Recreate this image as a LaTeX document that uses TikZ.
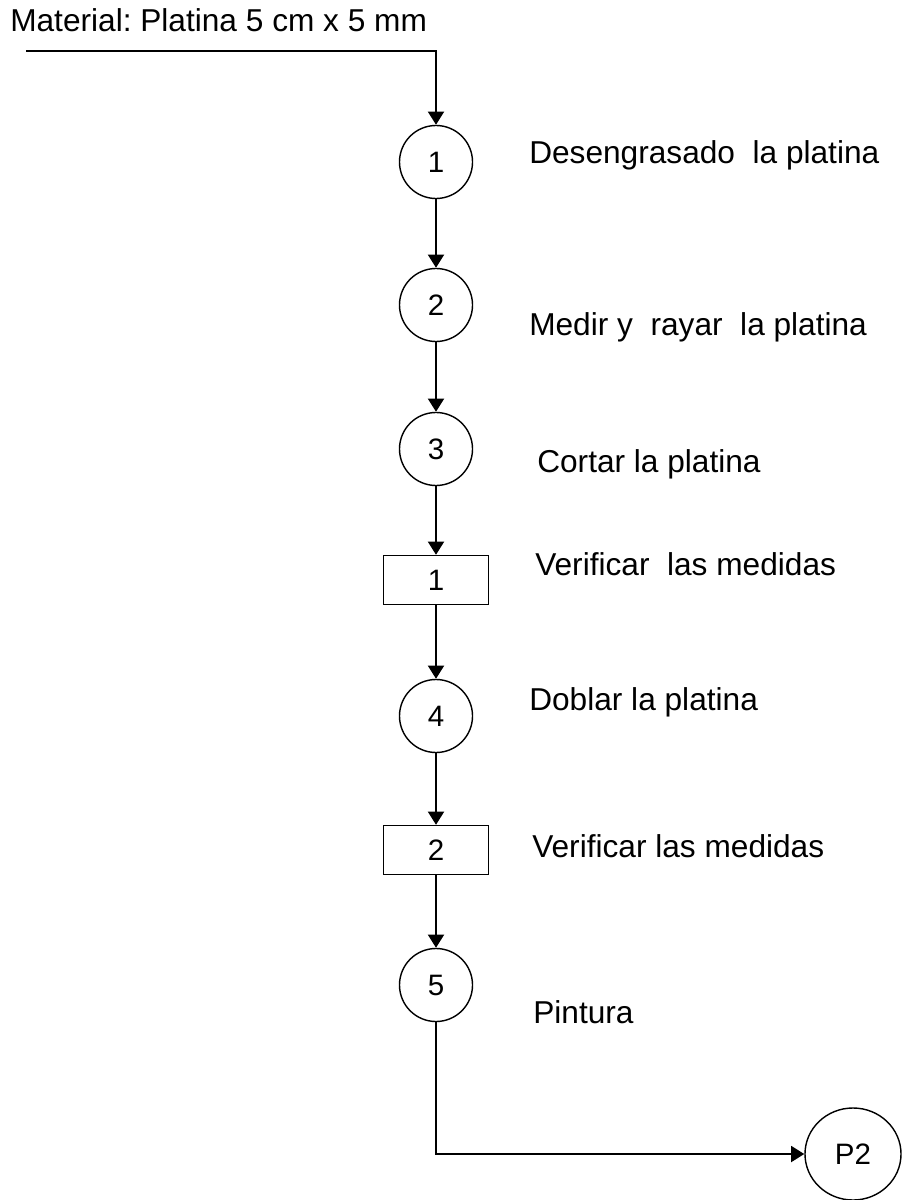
\documentclass[tikz,border=0pt]{standalone}
\usepackage{fontspec}
\setmainfont{Liberation Sans}
\usetikzlibrary{shapes.geometric,arrows.meta,positioning}
\frenchspacing

\begin{document}
\begin{tikzpicture}[
  x=0.025cm, y=-0.025cm,
  every node/.style={font=\fontsize{21}{24}\selectfont},
  opcircle/.style={draw, circle, line width=1pt, minimum size=1.825cm, inner sep=0pt},
  inspbox/.style={draw, rectangle, line width=1pt, minimum width=2.625cm,
                  minimum height=1.225cm, inner sep=0pt},
  nextproc/.style={draw, ellipse, line width=1pt, minimum width=2.4cm,
                   minimum height=2.3cm, inner sep=0pt},
  steplabel/.style={anchor=base west, inner sep=0pt, font=\fontsize{22.5}{26}\selectfont},
  flow/.style={line width=1.4pt, -{Triangle[width=0.4cm, length=0.33cm]}},
]
\useasboundingbox (0,0) rectangle (904,1200);

% Material
\node[steplabel] (material) at (10,32) {Material: Platina 5 cm x 5 mm};
\coordinate (entry) at (26,51);

% Operations and inspections
\node[opcircle] (op1) at (436,162) {1};
\node[opcircle] (op2) at (436,305) {2};
\node[opcircle] (op3) at (436,449) {3};
\node[inspbox]  (in1) at (436,580) {1};
\node[opcircle] (op4) at (436,716) {4};
\node[inspbox]  (in2) at (436,850) {2};
\node[opcircle] (op5) at (436,985) {5};
\node[nextproc] (p2)  at (853,1154) {P2};

% Descriptions
\node[steplabel] (d1) at (529,164)  {Desengrasado\ \ la platina};
\node[steplabel] (d2) at (529,336)  {Medir y\ \ rayar\ \ la platina};
\node[steplabel] (d3) at (537,472)  {Cortar la platina};
\node[steplabel] (d4) at (535,575)  {Verificar\ \ las medidas};
\node[steplabel] (d5) at (529,710)  {Doblar la platina};
\node[steplabel] (d6) at (532,857)  {Verificar las medidas};
\node[steplabel] (d7) at (533,1023) {Pintura};

% Flow
\draw[flow] (entry) -| (op1);
\draw[flow] (op1) -- (op2);
\draw[flow] (op2) -- (op3);
\draw[flow] (op3) -- (in1);
\draw[flow] (in1) -- (op4);
\draw[flow] (op4) -- (in2);
\draw[flow] (in2) -- (op5);
\draw[flow] (op5) |- (p2);

\end{tikzpicture}
\end{document}
